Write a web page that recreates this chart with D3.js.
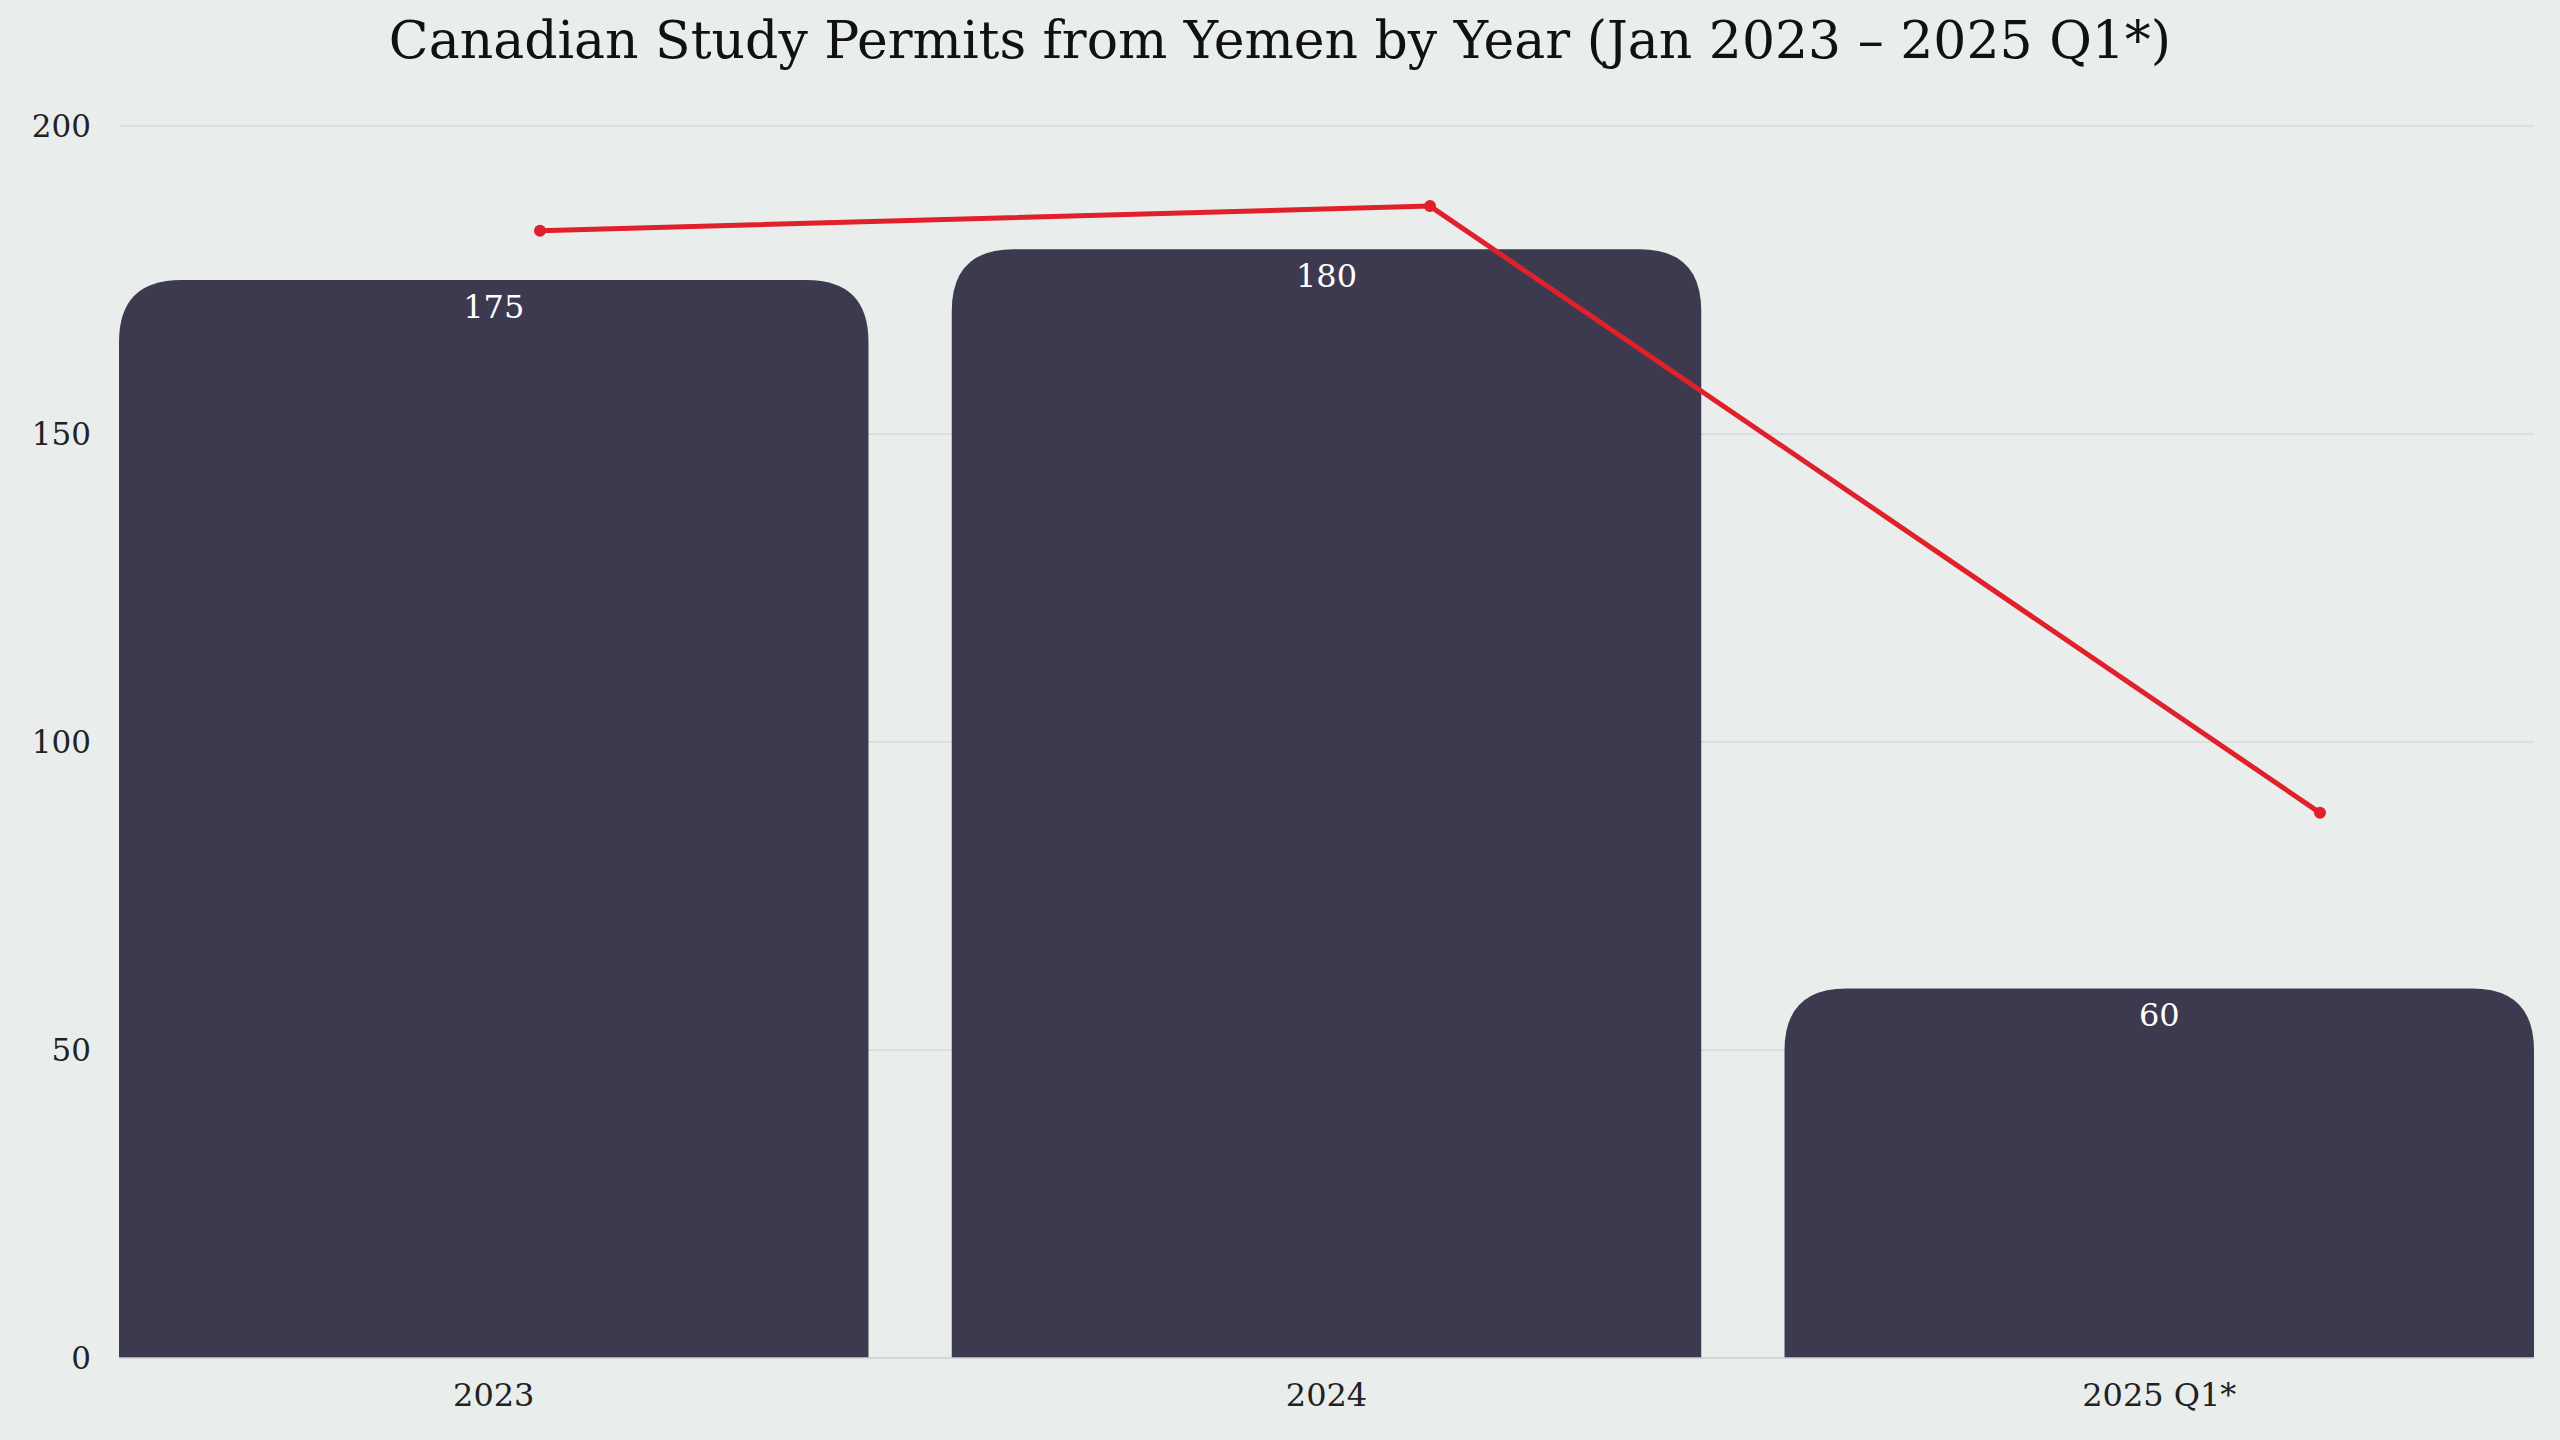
<!DOCTYPE html>
<html>
<head>
<meta charset="utf-8">
<script src="https://cdn.jsdelivr.net/npm/d3@7"></script>
<style>
  body { margin: 0; background: #e9eeec; }
  svg { display: block; font-family: "DejaVu Serif", "Liberation Serif", serif; }
</style>
</head>
<body>
<svg id="chart"></svg>
<script>
const width = 2560;
const height = 1440;

// data
const years = ["2023", "2024", "2025 Q1*"];
const permits = [175, 180, 60];
const trend = [183, 187, 88.5]; // red line values
const yTicks = [0, 50, 100, 150, 200];

const margin = {top: 126, right: 26, bottom: 82, left: 119};

const svg = d3.select("#chart")
  .attr("width", width)
  .attr("height", height);

svg.append("rect").attr("width", width).attr("height", height).attr("fill", "#e9eeec");

const x = d3.scaleBand()
  .domain(years)
  .range([margin.left, width - margin.right])
  .paddingInner(0.1)
  .paddingOuter(0);

const y = d3.scaleLinear()
  .domain([0, 200])
  .range([height - margin.bottom, margin.top]);

// trend line sits on its own point scale (shifted right of bar centres)
const xLine = d3.scalePoint()
  .domain(years)
  .range([540, 2320]);

// grid
svg.append("g")
  .selectAll("line")
  .data(yTicks)
  .enter().append("line")
  .attr("x1", margin.left)
  .attr("x2", width - margin.right)
  .attr("y1", d => y(d))
  .attr("y2", d => y(d))
  .attr("stroke", "#d6dad8")
  .attr("stroke-width", 1.5);

// y labels
svg.append("g")
  .selectAll("text")
  .data(yTicks)
  .enter().append("text")
  .attr("x", margin.left - 28)
  .attr("y", d => y(d))
  .attr("dy", "0.35em")
  .attr("text-anchor", "end")
  .attr("font-size", 31)
  .attr("fill", "#222")
  .text(d => d);

// bars with rounded tops
const r = 62;
function barPath(x0, w, yTop, yBot) {
  return `M${x0},${yBot} L${x0},${yTop + r} Q${x0},${yTop} ${x0 + r},${yTop}` +
    ` L${x0 + w - r},${yTop} Q${x0 + w},${yTop} ${x0 + w},${yTop + r} L${x0 + w},${yBot} Z`;
}

svg.append("g")
  .selectAll("path")
  .data(years)
  .enter().append("path")
  .attr("d", (d, i) => barPath(x(d), x.bandwidth(), y(permits[i]), y(0)))
  .attr("fill", "#3d3a50");

// value labels
svg.append("g")
  .selectAll("text")
  .data(years)
  .enter().append("text")
  .attr("x", d => x(d) + x.bandwidth() / 2)
  .attr("y", (d, i) => y(permits[i]) + 38)
  .attr("text-anchor", "middle")
  .attr("font-size", 32)
  .attr("fill", "#ffffff")
  .text((d, i) => permits[i]);

// baseline
svg.append("line")
  .attr("x1", margin.left).attr("x2", width - margin.right)
  .attr("y1", y(0)).attr("y2", y(0))
  .attr("stroke", "#cfd3d1").attr("stroke-width", 1.5);

// x labels
svg.append("g")
  .selectAll("text")
  .data(years)
  .enter().append("text")
  .attr("x", d => x(d) + x.bandwidth() / 2)
  .attr("y", y(0) + 48)
  .attr("text-anchor", "middle")
  .attr("font-size", 32)
  .attr("fill", "#222")
  .text(d => d);

// trend line
const line = d3.line()
  .x((d, i) => xLine(years[i]))
  .y(d => y(d));

svg.append("path")
  .datum(trend)
  .attr("d", line)
  .attr("fill", "none")
  .attr("stroke", "#e0202a")
  .attr("stroke-width", 5);

svg.append("g")
  .selectAll("circle")
  .data(trend)
  .enter().append("circle")
  .attr("cx", (d, i) => xLine(years[i]))
  .attr("cy", d => y(d))
  .attr("r", 6)
  .attr("fill", "#e0202a");

// title
svg.append("text")
  .attr("x", width / 2)
  .attr("y", 58)
  .attr("text-anchor", "middle")
  .attr("font-size", 52)
  .attr("fill", "#111")
  .text("Canadian Study Permits from Yemen by Year (Jan 2023 – 2025 Q1*)");
</script>
</body>
</html>
